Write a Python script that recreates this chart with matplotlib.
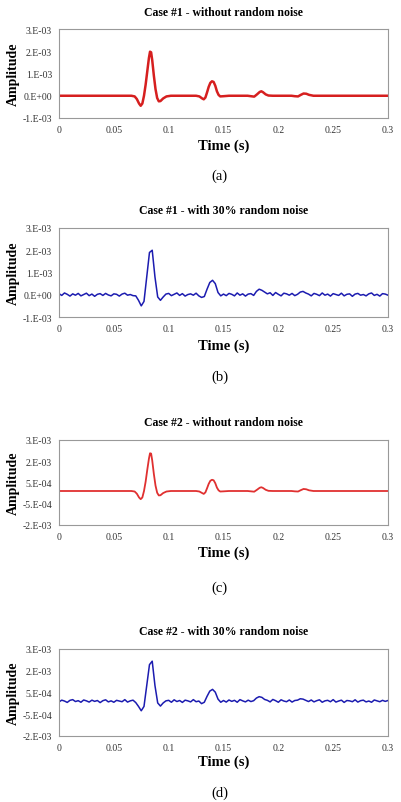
import numpy as np
import matplotlib.pyplot as plt

# clean signals, (time s, amplitude 1e-4)
t_clean_1 = [0, 0.066, 0.069, 0.071, 0.073, 0.0745, 0.076, 0.0775, 0.079, 0.0805, 0.082, 0.083,
             0.084, 0.085, 0.0865, 0.088, 0.0895, 0.091, 0.0925, 0.095, 0.098, 0.102, 0.125, 0.128,
             0.1305, 0.132, 0.1335, 0.135, 0.1365, 0.138, 0.1395, 0.141, 0.1425, 0.144, 0.1455,
             0.147, 0.15, 0.155, 0.172, 0.175, 0.178, 0.1805, 0.183, 0.1845, 0.186, 0.1885, 0.191,
             0.195, 0.212, 0.215, 0.218, 0.2205, 0.223, 0.2255, 0.228, 0.232, 0.3]
a_clean_1 = [0, 0, -0.3, -1.5, -3.5, -4.5, -3.5, 0, 5, 11, 17, 19.8, 19.5, 16, 9, 3, -1, -2.5, -2.4,
             -1.2, -0.3, 0, 0, -0.3, -1.2, -1.6, -0.8, 1.5, 4, 5.8, 6.5, 6.2, 4.5, 2, 0.4, -0.3, -0.2,
             0, 0, -0.2, -0.4, 0.6, 1.7, 2.0, 1.6, 0.6, 0.1, 0, 0, -0.2, -0.3, 0.4, 1.0, 0.9, 0.4, 0, 0]
a_clean_2 = [0, 0, -0.3, -1.6, -3.8, -4.8, -3.8, 0, 5.5, 12.5, 19, 22.2, 22, 18, 10, 3.2, -1, -2.6,
             -2.5, -1.2, -0.3, 0, 0, -0.3, -1.2, -1.7, -0.8, 1.6, 4.2, 6, 6.6, 6.3, 4.6, 2, 0.4, -0.3,
             -0.2, 0, 0, -0.2, -0.4, 0.7, 1.9, 2.2, 1.8, 0.7, 0.1, 0, 0, -0.2, -0.3, 0.5, 1.2, 1.0,
             0.4, 0, 0]

# noisy signals sampled every 2.5 ms (amplitude 1e-4)
a_noisy_1 = [0.5, -0.3, 0.8, 0.2, -0.6, 0.4, -0.2, 0.6, -0.5, 0.1, 0.7, -0.4, 0.3, -0.7, 0.2, 0.5,
             -0.3, 0.6, -0.1, -0.5, 0.4, 0.2, -0.6, 0.3, 0.7, -0.2, 0.1, -0.4,
             -0.5, -2.5, -5, -3, 8, 19, 20, 8, -1, -2.5, -1, 0.3,
             0.6, -0.4, 0.2, 0.8, -0.3, 0.5, -0.6, 0.1, 0.4, -0.2, 0.7, -0.5,
             -1.2, -0.8, 2.5, 5.5, 6.5, 5, 1, -0.5, 0.3,
             -0.4, 0.6, 0.2, -0.5, 0.8, -0.2, 0.4, -0.6, 0.3, 0.5, -0.3,
             1.5, 2.5, 2, 1.2, 0.4,
             0.9, -0.3, 1.0, 0.2, -0.5, 0.7, 0.4, -0.2, 0.6, -0.4,
             0.2, 1.2, 1.5, 0.8, 0.3,
             -0.5, 0.6, 0.2, -0.4, 0.8, -0.2, 0.3, -0.6, 0.5, 0.1, -0.3, 0.7, -0.5, 0.2, 0.4,
             -0.7, 0.3, 0.6, -0.2, 0.1, -0.5, 0.4, 0.8, -0.3, 0.2, -0.6, 0.5, 0.3, -0.2]
a_noisy_2 = [-0.4, 0.6, 0.1, -0.7, 0.5, 0.9, -0.2, 0.3, -0.6, 0.7, 0.2, -0.5, 0.6, -0.1, 0.4, -0.8,
             0.3, 0.8, -0.4, 0.2, -0.6, 0.5, 0.1, -0.3, 0.9, -0.5, 0.2, 0.6,
             -0.8, -3, -5.5, -3, 9, 21, 23, 9, -1, -2.8, -1, 0.2,
             0.5, -0.6, 0.8, -0.2, 0.4, -0.7, 0.6, 0.2, -0.4, 0.9, -0.3, 0.1,
             -1.4, -0.6, 2.8, 5.8, 6.8, 5.2, 1.2, -0.6, 0.4,
             -0.5, 0.7, -0.1, 0.5, -0.6, 0.9, 0.2, -0.4, 0.6, -0.2, 0.3,
             1.8, 2.6, 2.2, 1.0, 0.5,
             -0.4, 1.0, 0.3, -0.6, 0.8, 0.1, -0.3, 0.7, -0.5, 0.4,
             0.6, 1.4, 1.2, 0.5, -0.2,
             0.7, -0.4, 0.3, 0.8, -0.6, 0.2, 0.5, -0.3, 0.9, -0.5, 0.1, 0.6, -0.7, 0.4, 0.2,
             -0.3, 0.8, -0.5, 0.3, 0.6, -0.4, 0.1, -0.6, 0.7, 0.2, -0.3, 0.5, -0.1, 0.4]
t_noisy = np.arange(len(a_noisy_1)) * 0.0025

titles = ["Case #1 - without random noise", "Case #1 - with 30% random noise",
          "Case #2 - without random noise", "Case #2 - with 30% random noise"]
panel_labels = ["(a)", "(b)", "(c)", "(d)"]
yticks_1 = [-1e-3, 0, 1e-3, 2e-3, 3e-3]
ylabels_1 = ["-1.E-03", "0.E+00", "1.E-03", "2.E-03", "3.E-03"]
yticks_2 = list(np.linspace(-2e-3, 3e-3, 5))
ylabels_2 = ["-2.E-03", "-5.E-04", "5.E-04", "2.E-03", "3.E-03"]
xticks = [0, 0.05, 0.1, 0.15, 0.2, 0.25, 0.3]
xlabels = ["0", "0.05", "0.1", "0.15", "0.2", "0.25", "0.3"]

W, H = 401, 803
fig = plt.figure(figsize=(W / 100, H / 100), dpi=100)
plt.rcParams["font.family"] = "Liberation Serif"

# (title y, axes top, axes bottom, xlabel y, label y) in px
rows = [(13, 30, 119, 146, 176), (211, 229, 318, 346, 377),
        (423, 441, 526, 553, 588), (632, 650, 737, 762, 793)]
series = [(t_clean_1, a_clean_1, "#d61f1f", 1.8), (t_noisy, a_noisy_1, "#1c1cb0", 1.1),
          (t_clean_1, a_clean_2, "#e03030", 1.3), (t_noisy, a_noisy_2, "#1c1cb0", 1.1)]

left, right = 59, 388
for k, (ty, top, bot, xly, ly) in enumerate(rows):
    ax = fig.add_axes([left / W, 1 - bot / H, (right - left) / W, (bot - top) / H])
    t, a, c, lw = series[k]
    ax.plot(t, np.array(a) * 1e-4, color=c, lw=lw)
    ax.set_xlim(0, 0.3)
    if k < 2:
        ax.set_ylim(-1e-3, 3e-3)
        ax.set_yticks(yticks_1, ylabels_1)
    else:
        ax.set_ylim(-2e-3, 3e-3)
        ax.set_yticks(yticks_2, ylabels_2)
    ax.set_xticks(xticks, xlabels)
    ax.tick_params(length=0, labelsize=7, colors="#333333", pad=5)
    for s in ax.spines.values():
        s.set_color("#999999")
        s.set_linewidth(0.8)
    ax.set_ylabel("Amplitude", fontsize=10, fontweight="bold", labelpad=2)
    fig.text(0.5 * (left + right) / W, 1 - ty / H, titles[k], ha="center", va="center",
             fontsize=8.5, fontweight="bold")
    fig.text(0.5 * (left + right) / W, 1 - xly / H, "Time (s)", ha="center", va="center",
             fontsize=10.5, fontweight="bold")
    fig.text(0.5 * (left + right) / W - 0.01, 1 - ly / H, panel_labels[k], ha="center",
             va="center", fontsize=10.5)

fig.savefig("out.png", dpi=100)
